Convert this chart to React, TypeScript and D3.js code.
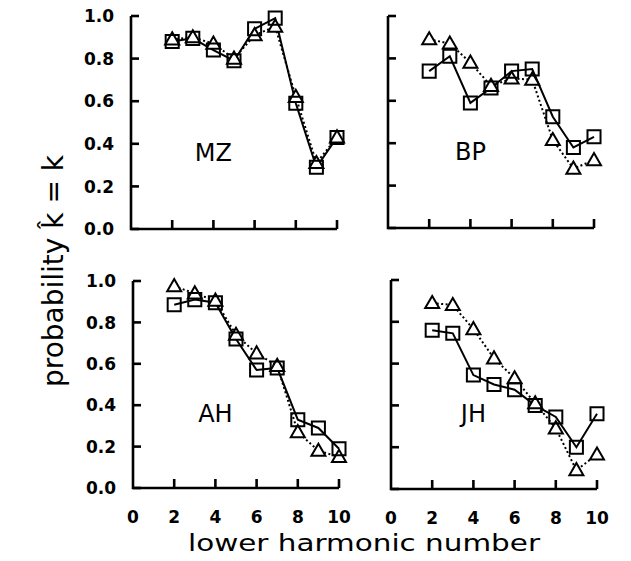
import React from "react";
import * as d3 from "d3";

const harmonics = [2, 3, 4, 5, 6, 7, 8, 9, 10];
const panelNames = ["MZ", "BP", "AH", "JH"];
const mzSquare = [0.88, 0.895, 0.84, 0.79, 0.94, 0.99, 0.59, 0.29, 0.43];
const mzTriangle = [0.89, 0.90, 0.87, 0.80, 0.91, 0.95, 0.62, 0.31, 0.43];
const bpSquare = [0.74, 0.81, 0.59, 0.66, 0.74, 0.75, 0.525, 0.38, 0.43];
const bpTriangle = [0.89, 0.87, 0.78, 0.67, 0.705, 0.70, 0.415, 0.28, 0.32];
const ahSquare = [0.885, 0.91, 0.895, 0.72, 0.57, 0.58, 0.33, 0.29, 0.19];
const ahTriangle = [0.975, 0.94, 0.905, 0.74, 0.65, 0.59, 0.27, 0.18, 0.15];
const jhSquare = [0.76, 0.745, 0.545, 0.50, 0.475, 0.40, 0.345, 0.20, 0.36];
const jhTriangle = [0.89, 0.88, 0.765, 0.625, 0.53, 0.41, 0.29, 0.09, 0.165];
const yTicks = [0, 0.2, 0.4, 0.6, 0.8, 1.0];
const xTicks = [0, 2, 4, 6, 8, 10];
const xTickLabels = ["0", "2", "4", "6", "8", "10"];
const yTickLabels = ["0.0", "0.2", "0.4", "0.6", "0.8", "1.0"];

const squareSeries = [mzSquare, bpSquare, ahSquare, jhSquare];
const triangleSeries = [mzTriangle, bpTriangle, ahTriangle, jhTriangle];

const layouts = [
  { x0: 131, x1: 337, y0: 229, y1: 16, showY: true, showX: false },
  { x0: 388, x1: 594, y0: 228, y1: 16, showY: false, showX: false },
  { x0: 133, x1: 339, y0: 488, y1: 281, showY: true, showX: true },
  { x0: 391, x1: 597, y0: 489, y1: 280, showY: false, showX: true },
];

const tickFont = "'DejaVu Sans', sans-serif";

function Panel({ idx }: { idx: number }) {
  const L = layouts[idx];
  const x = d3.scaleLinear().domain([0, 10]).range([L.x0, L.x1]);
  const y = d3.scaleLinear().domain([0, 1]).range([L.y0, L.y1]);
  const sq = harmonics.map((h, i) => [h, squareSeries[idx][i]] as [number, number]);
  const tr = harmonics.map((h, i) => [h, triangleSeries[idx][i]] as [number, number]);
  const line = d3
    .line<[number, number]>()
    .x((d) => x(d[0]))
    .y((d) => y(d[1]));
  const sqSym = d3.symbol().type(d3.symbolSquare).size(170)();
  const trSym = d3.symbol().type(d3.symbolTriangle).size(85)();
  const sw = 2.6;
  return (
    <g>
      <path
        d={`M${x(0)},${y(1)}V${y(0)}H${x(10)}`}
        fill="none"
        stroke="#000"
        strokeWidth={sw}
      />
      {yTicks.map((t) => (
        <line key={"yt" + t} x1={x(0)} x2={x(0) + 8} y1={y(t)} y2={y(t)} stroke="#000" strokeWidth={sw} />
      ))}
      {xTicks.slice(1).map((t) => (
        <line key={"xt" + t} x1={x(t)} x2={x(t)} y1={y(0)} y2={y(0) - 9} stroke="#000" strokeWidth={sw} />
      ))}
      {L.showY &&
        yTicks.map((t, i) => (
          <text
            key={"yl" + t}
            x={x(0) - 17}
            y={y(t)}
            dy="0.36em"
            textAnchor="end"
            fontFamily={tickFont}
            fontWeight="bold"
            fontSize={17}
          >
            {yTickLabels[i]}
          </text>
        ))}
      {L.showX &&
        xTicks.map((t, i) => (
          <text
            key={"xl" + t}
            x={x(t)}
            y={y(0) + 35}
            textAnchor="middle"
            fontFamily={tickFont}
            fontWeight="bold"
            fontSize={17}
          >
            {xTickLabels[i]}
          </text>
        ))}
      <path d={line(tr) || ""} fill="none" stroke="#000" strokeWidth={2} strokeDasharray="2,2.5" />
      <path d={line(sq) || ""} fill="none" stroke="#000" strokeWidth={2} />
      {tr.map((d, i) => (
        <path
          key={"tr" + i}
          d={trSym || ""}
          transform={`translate(${x(d[0])},${y(d[1]) + 1})`}
          fill="#fff"
          stroke="#000"
          strokeWidth={2}
        />
      ))}
      {sq.map((d, i) => (
        <path
          key={"sq" + i}
          d={sqSym || ""}
          transform={`translate(${x(d[0])},${y(d[1])})`}
          fill="none"
          stroke="#000"
          strokeWidth={2}
        />
      ))}
      <text
        x={x(4)}
        y={y(0.32)}
        textAnchor="middle"
        fontFamily={tickFont}
        fontSize={24}
      >
        {panelNames[idx]}
      </text>
    </g>
  );
}

export default function App() {
  return (
    <svg width={631} height={561} style={{ position: "absolute", left: 0, top: 0, background: "#fff" }}>
      <rect x={0} y={0} width={631} height={561} fill="#fff" />
      {[0, 1, 2, 3].map((i) => (
        <Panel key={i} idx={i} />
      ))}
      <text
        transform="translate(63,271) rotate(-90)"
        textAnchor="middle"
        fontFamily={tickFont}
        fontSize={28}
      >
        probability k{"\u0302"} = k
      </text>
      <text
        x={364}
        y={551}
        textAnchor="middle"
        fontFamily={tickFont}
        fontSize={23}
        textLength={352}
        lengthAdjust="spacingAndGlyphs"
      >
        lower harmonic number
      </text>
    </svg>
  );
}
